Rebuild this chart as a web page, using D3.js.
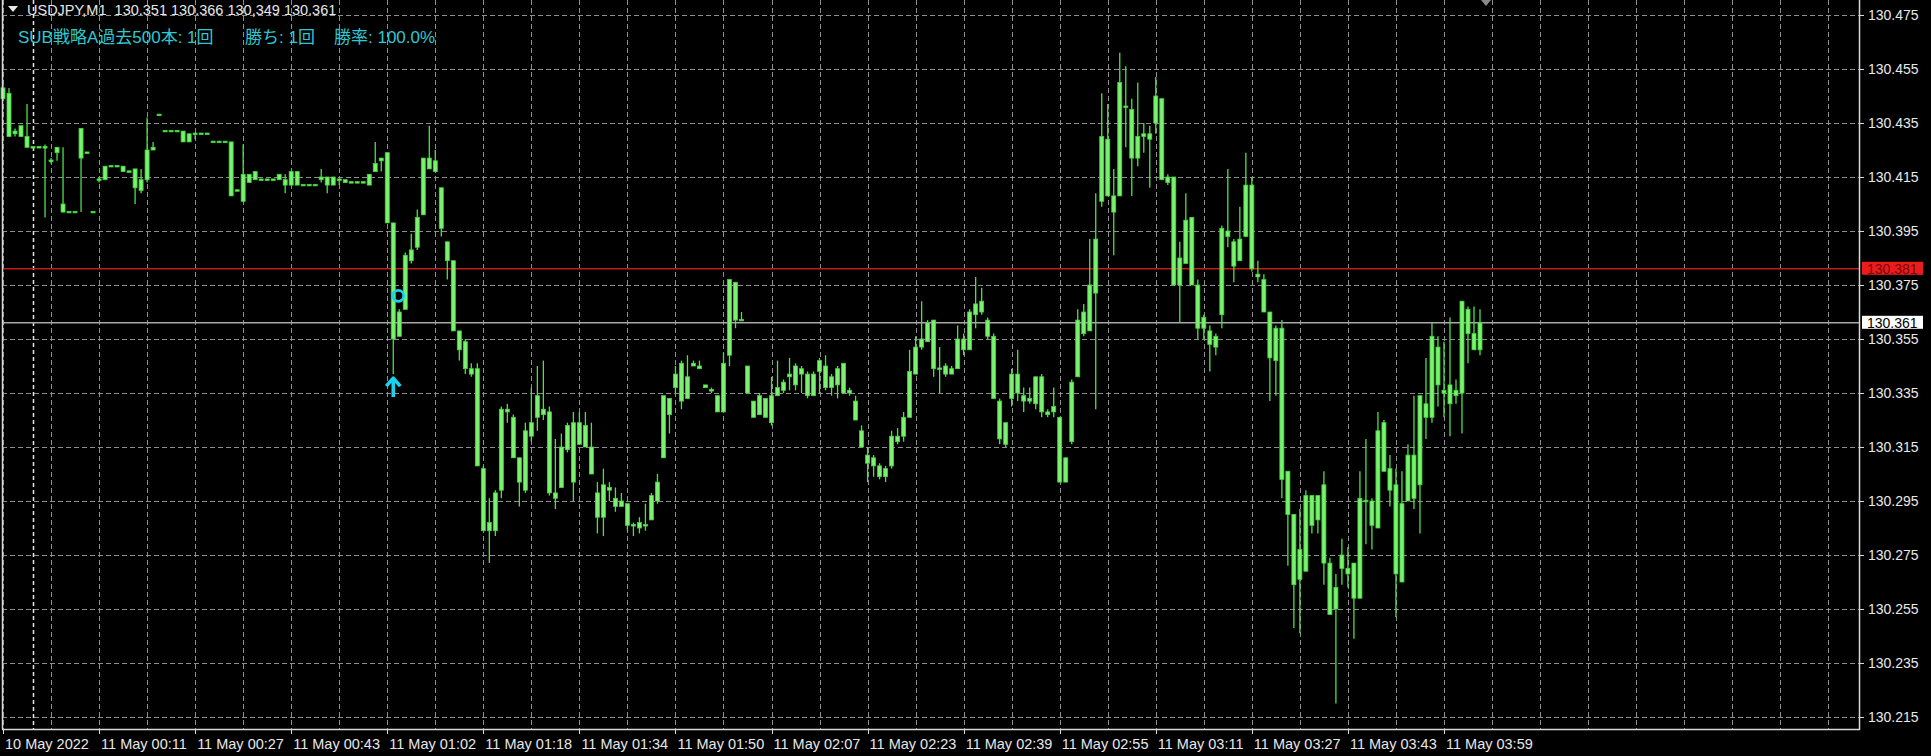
<!DOCTYPE html>
<html><head><meta charset="utf-8">
<script src="https://cdn.jsdelivr.net/npm/d3@7"></script>
<style>
html,body{margin:0;padding:0;background:#000;overflow:hidden}
svg{display:block}
text{font-family:"Liberation Sans",Arial,"Noto Sans CJK JP",sans-serif}
.hdr{white-space:pre}
</style></head><body>
<svg id="c" width="1931" height="756"></svg>
<script>
const symbolInfo = "USDJPY,M1  130.351 130.366 130,349 130.361";
const statsTexts = ["SUB戦略A過去500本: 1回", "勝ち: 1回", "勝率: 100.0%"];
const timeLabels = ["10 May 2022","11 May 00:11","11 May 00:27","11 May 00:43","11 May 01:02","11 May 01:18","11 May 01:34","11 May 01:50","11 May 02:07","11 May 02:23","11 May 02:39","11 May 02:55","11 May 03:11","11 May 03:27","11 May 03:43","11 May 03:59"];
const priceTicks = [130.475,130.455,130.435,130.415,130.395,130.375,130.355,130.335,130.315,130.295,130.275,130.255,130.235,130.215];
const askPrice = 130.381;
const bidPrice = 130.361;
const signalBar = 65;
const exitBar = 66;
const exitPrice = 130.371;

const open = [130.448,130.446,130.431,130.430,130.430,130.426,130.426,130.426,130.421,130.426,
130.405,130.402,130.402,130.433,130.424,130.402,130.414,130.414,130.419,130.419,
130.419,130.417,130.418,130.410,130.414,130.425,130.438,130.432,130.432,130.432,
130.432,130.428,130.431,130.431,130.431,130.428,130.428,130.428,130.428,130.410,
130.406,130.416,130.414,130.414,130.414,130.414,130.414,130.414,130.412,130.417,
130.412,130.412,130.412,130.414,130.415,130.412,130.414,130.414,130.413,130.413,
130.413,130.412,130.417,130.421,130.424,130.398,130.356,130.366,130.384,130.389,
130.401,130.422,130.417,130.411,130.391,130.384,130.358,130.354,130.342,130.344,
130.307,130.284,130.284,130.299,130.329,130.326,130.311,130.299,130.319,130.326,
130.329,130.328,130.298,130.300,130.314,130.324,130.316,130.323,130.315,130.298,
130.289,130.300,130.296,130.293,130.294,130.286,130.285,130.286,130.288,130.295,
130.311,130.333,130.337,130.346,130.333,130.345,130.345,130.338,130.336,130.334,
130.328,130.349,130.376,130.362,130.345,130.332,130.327,130.333,130.324,130.334,
130.336,130.341,130.338,130.344,130.342,130.334,130.343,130.345,130.337,130.338,
130.346,130.335,130.332,130.321,130.312,130.308,130.308,130.304,130.308,130.319,
130.319,130.326,130.342,130.352,130.354,130.362,130.344,130.345,130.342,130.344,
130.355,130.351,130.364,130.369,130.362,130.356,130.332,130.316,130.333,130.342,
130.334,130.332,130.331,130.341,130.328,130.328,130.326,130.302,130.317,130.341,
130.357,130.358,130.372,130.406,130.429,130.408,130.408,130.441,130.440,130.422,
130.430,130.431,130.435,130.444,130.415,130.415,130.375,130.383,130.400,130.375,
130.359,130.358,130.352,130.364,130.395,130.391,130.384,130.393,130.412,130.379,
130.377,130.365,130.347,130.359,130.306,130.290,130.266,130.269,130.297,130.288,
130.301,130.272,130.255,130.270,130.270,130.272,130.259,130.295,130.295,130.285,
130.324,130.299,130.301,130.265,130.295,130.312,130.301,130.331,130.326,130.352,
130.336,130.331,130.336,130.335,130.366,130.357,130.351];

const high = [130.449,130.448,130.433,130.434,130.442,130.426,130.426,130.427,130.422,130.426,
130.426,130.402,130.402,130.433,130.424,130.402,130.415,130.419,130.419,130.419,
130.419,130.417,130.418,130.418,130.437,130.428,130.438,130.432,130.432,130.432,
130.432,130.431,130.431,130.431,130.431,130.428,130.428,130.428,130.428,130.410,
130.427,130.416,130.417,130.414,130.414,130.414,130.416,130.416,130.417,130.417,
130.412,130.412,130.412,130.418,130.415,130.415,130.414,130.414,130.413,130.413,
130.413,130.416,130.428,130.422,130.424,130.398,130.366,130.387,130.394,130.403,
130.422,130.434,130.425,130.411,130.391,130.384,130.358,130.355,130.346,130.346,
130.308,130.296,130.299,130.330,130.331,130.327,130.311,130.324,130.337,130.345,
130.347,130.330,130.318,130.320,130.324,130.328,130.328,130.328,130.324,130.302,
130.307,130.302,130.300,130.298,130.294,130.287,130.289,130.294,130.298,130.305,
130.334,130.333,130.345,130.347,130.349,130.347,130.347,130.338,130.337,130.334,
130.350,130.377,130.376,130.365,130.345,130.332,130.335,130.333,130.341,130.347,
130.340,130.348,130.346,130.345,130.343,130.343,130.348,130.349,130.342,130.345,
130.346,130.337,130.334,130.323,130.315,130.312,130.309,130.308,130.321,130.322,
130.328,130.351,130.356,130.369,130.362,130.362,130.352,130.346,130.345,130.360,
130.357,130.366,130.378,130.374,130.363,130.357,130.333,130.324,130.344,130.351,
130.337,130.337,130.341,130.342,130.329,130.337,130.326,130.311,130.340,130.366,
130.368,130.392,130.409,130.446,130.442,130.418,130.461,130.456,130.444,130.450,
130.435,130.434,130.452,130.444,130.416,130.415,130.391,130.409,130.400,130.377,
130.364,130.360,130.357,130.397,130.418,130.392,130.404,130.424,130.415,130.384,
130.379,130.365,130.360,130.362,130.306,130.290,130.292,130.299,130.297,130.297,
130.306,130.274,130.268,130.281,130.278,130.272,130.306,130.318,130.296,130.328,
130.325,130.312,130.307,130.306,130.316,130.334,130.334,130.348,130.361,130.356,
130.354,130.363,130.340,130.369,130.367,130.367,130.366];

const low = [130.444,130.430,130.430,130.430,130.426,130.426,130.426,130.400,130.420,130.421,
130.402,130.402,130.402,130.402,130.424,130.402,130.413,130.414,130.419,130.419,
130.417,130.417,130.405,130.409,130.413,130.425,130.438,130.432,130.432,130.432,
130.428,130.428,130.429,130.431,130.431,130.428,130.428,130.428,130.408,130.410,
130.406,130.413,130.414,130.414,130.414,130.414,130.414,130.409,130.412,130.412,
130.412,130.412,130.412,130.413,130.409,130.412,130.412,130.413,130.413,130.413,
130.413,130.412,130.417,130.417,130.398,130.342,130.356,130.366,130.383,130.388,
130.401,130.418,130.417,130.393,130.377,130.358,130.347,130.342,130.341,130.308,
130.284,130.272,130.282,130.296,130.324,130.311,130.293,130.298,130.317,130.321,
130.325,130.297,130.292,130.300,130.313,130.295,130.316,130.315,130.305,130.283,
130.282,130.295,130.291,130.293,130.284,130.282,130.283,130.284,130.288,130.294,
130.311,130.320,130.335,130.329,130.333,130.345,130.344,130.337,130.335,130.328,
130.328,130.345,130.359,130.362,130.335,130.326,130.327,130.326,130.323,130.334,
130.335,130.336,130.336,130.335,130.333,130.334,130.335,130.336,130.334,130.333,
130.335,130.334,130.325,130.315,130.302,130.304,130.303,130.302,130.307,130.316,
130.317,130.326,130.342,130.351,130.354,130.341,130.335,130.341,130.342,130.344,
130.349,130.351,130.359,130.364,130.355,130.333,130.316,130.315,130.330,130.332,
130.328,130.331,130.329,130.326,130.326,130.326,130.302,130.302,130.316,130.341,
130.356,130.358,130.329,130.404,130.408,130.386,130.408,130.426,130.408,130.419,
130.424,130.411,130.431,130.414,130.412,130.375,130.361,130.383,130.375,130.355,
130.355,130.343,130.349,130.359,130.389,130.376,130.384,130.393,130.380,130.376,
130.365,130.332,130.334,130.296,130.271,130.248,130.246,130.269,130.283,130.283,
130.264,130.253,130.220,130.264,130.263,130.244,130.259,130.279,130.277,130.285,
130.306,130.293,130.252,130.265,130.295,130.292,130.283,130.318,130.324,130.330,
130.326,130.319,130.331,130.320,130.346,130.351,130.349];

const close = [130.444,130.430,130.432,130.434,130.426,130.426,130.426,130.426,130.421,130.424,
130.402,130.402,130.402,130.422,130.424,130.402,130.414,130.419,130.419,130.419,
130.417,130.417,130.411,130.414,130.425,130.426,130.438,130.432,130.432,130.432,
130.428,130.431,130.431,130.431,130.431,130.428,130.428,130.428,130.408,130.410,
130.416,130.413,130.417,130.414,130.414,130.414,130.416,130.412,130.417,130.412,
130.412,130.412,130.412,130.415,130.412,130.415,130.414,130.413,130.413,130.413,
130.413,130.416,130.420,130.422,130.398,130.355,130.365,130.386,130.388,130.400,
130.422,130.418,130.421,130.396,130.384,130.358,130.351,130.344,130.344,130.308,
130.284,130.287,130.298,130.329,130.328,130.311,130.302,130.321,130.324,130.334,
130.327,130.298,130.296,130.315,130.323,130.302,130.324,130.315,130.305,130.289,
130.301,130.299,130.293,130.295,130.286,130.286,130.287,130.286,130.297,130.302,
130.334,130.327,130.342,130.332,130.341,130.346,130.344,130.337,130.336,130.328,
130.346,130.377,130.362,130.362,130.335,130.326,130.334,130.326,130.334,130.337,
130.339,130.342,130.345,130.342,130.334,130.342,130.347,130.337,130.341,130.344,
130.335,130.336,130.325,130.315,130.309,130.311,130.304,130.307,130.319,130.317,
130.326,130.343,130.352,130.355,130.361,130.344,130.344,130.342,130.344,130.355,
130.351,130.365,130.368,130.365,130.356,130.333,130.318,130.324,130.342,130.335,
130.332,130.333,130.341,130.328,130.327,130.330,130.302,130.311,130.339,130.362,
130.365,130.375,130.392,130.430,130.408,130.402,130.450,130.441,130.422,130.430,
130.431,130.429,130.445,130.414,130.413,130.375,130.385,130.399,130.375,130.359,
130.363,130.353,130.356,130.396,130.393,130.382,130.392,130.412,130.381,130.378,
130.365,130.348,130.359,130.303,130.290,130.264,130.277,130.297,130.286,130.297,
130.272,130.253,130.263,130.275,130.268,130.259,130.296,130.295,130.286,130.321,
130.306,130.307,130.268,130.294,130.312,130.296,130.334,130.326,130.356,130.338,
130.335,130.338,130.334,130.369,130.357,130.351,130.361];

// ---------- layout ----------
const W = 1931, H = 756;
const plotL = 2, plotR = 1859, plotT = 0, plotB = 729;
const svg = d3.select("#c");
svg.append("rect").attr("width", W).attr("height", H).attr("fill", "#000");

const nBars = open.length;
const x = d3.scaleLinear().domain([0, nBars - 1]).range([3, 1480]);
const y = d3.scaleLinear().domain([130.215, 130.475]).range([717, 15]);

const gridCol = "#8e8e8e";
// horizontal grid
svg.append("g").selectAll("line").data(priceTicks).join("line")
  .attr("x1", plotL).attr("x2", plotR)
  .attr("y1", d => Math.round(y(d)) + 0.5).attr("y2", d => Math.round(y(d)) + 0.5)
  .attr("stroke", gridCol).attr("stroke-width", 1).attr("stroke-dasharray", "5,3");

// vertical grid every 8 bars
const vIdx = d3.range(0, 400, 8).filter(i => x(i) < plotR - 3);
svg.append("g").selectAll("line").data(vIdx).join("line")
  .attr("x1", d => Math.round(x(d)) + 0.5).attr("x2", d => Math.round(x(d)) + 0.5)
  .attr("y1", plotT).attr("y2", plotB)
  .attr("stroke", gridCol).attr("stroke-width", 1).attr("stroke-dasharray", "5,3");

// day separator (11 May 00:00)
svg.append("line").attr("x1", Math.round(x(5)) + 0.5).attr("x2", Math.round(x(5)) + 0.5)
  .attr("y1", plotT).attr("y2", plotB)
  .attr("stroke", "#e6e6e6").attr("stroke-width", 1.5).attr("stroke-dasharray", "4,3");

// ask / bid lines
svg.append("line").attr("x1", plotL).attr("x2", plotR)
  .attr("y1", y(askPrice)).attr("y2", y(askPrice))
  .attr("stroke", "#c41a1a").attr("stroke-width", 1.5);
svg.append("line").attr("x1", plotL).attr("x2", plotR)
  .attr("y1", y(bidPrice)).attr("y2", y(bidPrice))
  .attr("stroke", "#a8a8a8").attr("stroke-width", 1.5);

// candles
const bars = d3.range(nBars).map(i => ({i, o: open[i], h: high[i], l: low[i], c: close[i]}));
const cg = svg.append("g");
const wickCol = "#4ee048", bodyFill = "#7cf070", bodyStroke = "#3fd83a";
cg.selectAll("line.w").data(bars.filter(d => d.h > d.l)).join("line").attr("class", "w")
  .attr("x1", d => x(d.i)).attr("x2", d => x(d.i))
  .attr("y1", d => y(d.h)).attr("y2", d => y(d.l))
  .attr("stroke", wickCol).attr("stroke-width", 1.3);
cg.selectAll("rect.b").data(bars).join("rect").attr("class", "b")
  .attr("x", d => x(d.i) - 2)
  .attr("width", 4)
  .attr("y", d => y(Math.max(d.o, d.c)) - (d.o === d.c ? 0.75 : 0))
  .attr("height", d => Math.max(1.5, y(Math.min(d.o, d.c)) - y(Math.max(d.o, d.c))))
  .attr("fill", bodyFill).attr("stroke", bodyStroke).attr("stroke-width", 0.8);

// signal markers
const cyan = "#19d3ee";
const ax = x(signalBar), ay = y(low[signalBar]) + 3;
svg.append("path")
  .attr("d", `M${ax},${ay + 20} L${ax},${ay + 2} M${ax - 7},${ay + 9} L${ax},${ay + 1} L${ax + 7},${ay + 9}`)
  .attr("fill", "none").attr("stroke", cyan).attr("stroke-width", 3.6).attr("stroke-linejoin", "round");
svg.append("circle").attr("cx", x(exitBar) - 1).attr("cy", y(exitPrice)).attr("r", 5.5)
  .attr("fill", "none").attr("stroke", cyan).attr("stroke-width", 2.8);

// borders
svg.append("line").attr("x1", plotL + 0.5).attr("x2", plotL + 0.5).attr("y1", 0).attr("y2", plotB)
  .attr("stroke", "#d8d8d8").attr("stroke-width", 1.5);
svg.append("line").attr("x1", plotR + 0.5).attr("x2", plotR + 0.5).attr("y1", 0).attr("y2", plotB + 1)
  .attr("stroke", "#d8d8d8").attr("stroke-width", 1.5);
svg.append("line").attr("x1", plotL).attr("x2", plotR + 1).attr("y1", plotB + 0.5).attr("y2", plotB + 0.5)
  .attr("stroke", "#d8d8d8").attr("stroke-width", 1.5);

// price axis
const pa = svg.append("g");
pa.selectAll("line").data(priceTicks).join("line")
  .attr("x1", plotR).attr("x2", plotR + 5)
  .attr("y1", d => Math.round(y(d)) + 0.5).attr("y2", d => Math.round(y(d)) + 0.5)
  .attr("stroke", "#d8d8d8");
pa.selectAll("text").data(priceTicks).join("text")
  .attr("x", 1868).attr("y", d => y(d) + 5)
  .attr("fill", "#e8e8e8").attr("font-size", 14)
  .text(d => d.toFixed(3));

// ask / bid labels
function priceTag(p, bg, fg) {
  const g = svg.append("g");
  g.append("rect").attr("x", 1862).attr("y", y(p) - 7).attr("width", 61).attr("height", 13)
    .attr("fill", bg);
  g.append("text").attr("x", 1867).attr("y", y(p) + 5).attr("fill", fg).attr("font-size", 14)
    .text(p.toFixed(3));
}
priceTag(askPrice, "#ea1c1c", "#7a0606");
priceTag(bidPrice, "#ffffff", "#000000");

// time axis
const tIdx = timeLabels.map((d, k) => k * 16);
const ta = svg.append("g");
ta.selectAll("line").data(tIdx).join("line")
  .attr("x1", d => Math.round(x(d)) + 0.5).attr("x2", d => Math.round(x(d)) + 0.5)
  .attr("y1", plotB).attr("y2", plotB + 5)
  .attr("stroke", "#d8d8d8");
ta.selectAll("text").data(timeLabels).join("text")
  .attr("x", (d, k) => x(tIdx[k]) + 2).attr("y", 749)
  .attr("fill", "#e8e8e8").attr("font-size", 14.5)
  .text(d => d);

// header
svg.append("path").attr("d", "M8,6 L18,6 L13,12 Z").attr("fill", "#e8e8e8");
svg.append("text").attr("class", "hdr").attr("x", 27).attr("y", 15).attr("fill", "#e8e8e8").attr("font-size", 14.5)
  .text(symbolInfo);
const statsX = [18, 245, 334];
svg.selectAll("text.st").data(statsTexts).join("text").attr("class", "st")
  .attr("x", (d, k) => statsX[k]).attr("y", 43)
  .attr("fill", "#2ec8d0").attr("font-size", 17)
  .text(d => d);

// chart shift marker
svg.append("path").attr("d", "M1481,0 L1491,0 L1486,6 Z").attr("fill", "#8a8a8a");
</script>
</body></html>
